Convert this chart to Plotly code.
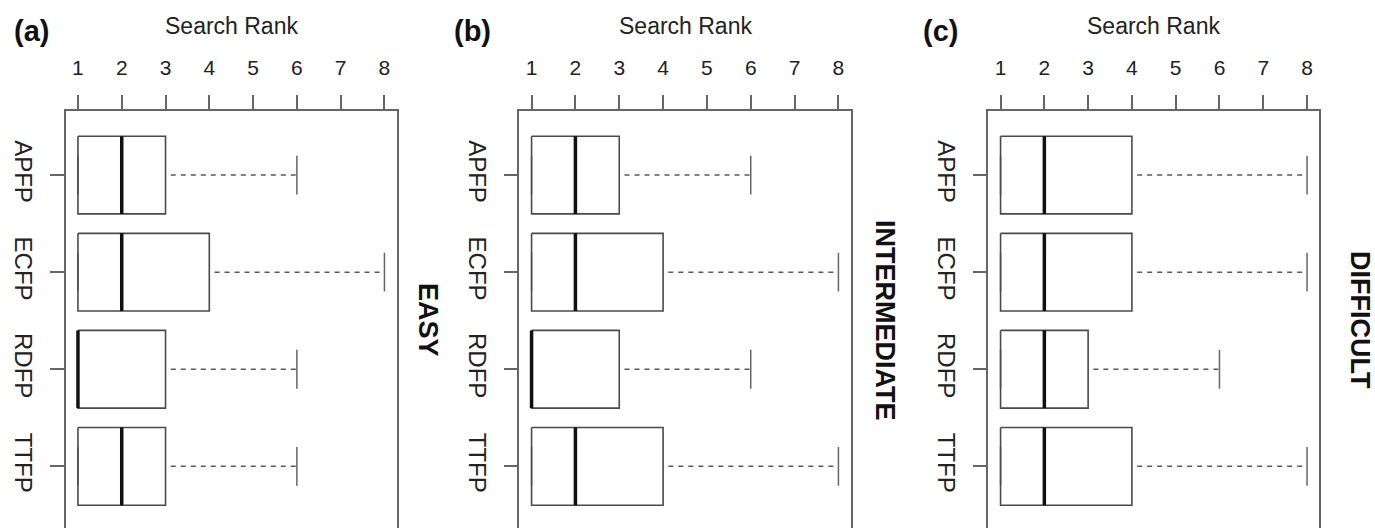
import plotly.graph_objects as go

# Fingerprint methods (one box per method in every panel)
methods = ["APFP", "ECFP", "RDFP", "TTFP"]
rank_ticks = [1, 2, 3, 4, 5, 6, 7, 8]

panel_tags = ["(a)", "(b)", "(c)"]
panel_names = ["EASY", "INTERMEDIATE", "DIFFICULT"]

# Search-rank summaries per difficulty level
easy_min = [1, 1, 1, 1]
easy_q1 = [1, 1, 1, 1]
easy_median = [2, 2, 1, 2]
easy_q3 = [3, 4, 3, 3]
easy_max = [6, 8, 6, 6]

inter_min = [1, 1, 1, 1]
inter_q1 = [1, 1, 1, 1]
inter_median = [2, 2, 1, 2]
inter_q3 = [3, 4, 3, 4]
inter_max = [6, 8, 6, 8]

diff_min = [1, 1, 1, 1]
diff_q1 = [1, 1, 1, 1]
diff_median = [2, 2, 2, 2]
diff_q3 = [4, 4, 3, 4]
diff_max = [8, 8, 6, 8]

panels = [
    (easy_min, easy_q1, easy_median, easy_q3, easy_max),
    (inter_min, inter_q1, inter_median, inter_q3, inter_max),
    (diff_min, diff_q1, diff_median, diff_q3, diff_max),
]

W, H = 1375, 528
TOP_PX = 111
x_domains = [(65.7 / W, 396.7 / W), (519.3 / W, 850.7 / W), (988.3 / W, 1319.3 / W)]
y_top = 1 - TOP_PX / H

BOX_HALF = 0.4      # half box width (category units)
STAPLE_HALF = 0.2   # half staple length
WHISKER_GAP = 0.12  # small gap between box edge and dashed whisker
FRAME = "#666666"
BOX_LINE = "#4a4a4a"
FONT = "Liberation Sans, Arial"

fig = go.Figure()
annotations = []

for i, (mn, q1, med, q3, mx) in enumerate(panels):
    xa = "x" if i == 0 else f"x{i + 1}"
    ya = "y" if i == 0 else f"y{i + 1}"
    pos = list(range(1, len(methods) + 1))

    box_x, box_y = [], []
    med_x, med_y = [], []
    wh_x, wh_y = [], []
    st_x, st_y = [], []
    for p, a, m, b, lo, hi in zip(pos, q1, med, q3, mn, mx):
        box_x += [a, b, b, a, a, None]
        box_y += [p - BOX_HALF, p - BOX_HALF, p + BOX_HALF, p + BOX_HALF, p - BOX_HALF, None]
        med_x += [m, m, None]
        med_y += [p - BOX_HALF, p + BOX_HALF, None]
        if hi > b:
            wh_x += [b + WHISKER_GAP, hi, None]
            wh_y += [p, p, None]
        if lo < a:
            wh_x += [lo, a - WHISKER_GAP, None]
            wh_y += [p, p, None]
        st_x += [hi, hi, None, lo, lo, None]
        st_y += [p - STAPLE_HALF, p + STAPLE_HALF, None, p - STAPLE_HALF, p + STAPLE_HALF, None]

    common = dict(mode="lines", xaxis=xa, yaxis=ya, hoverinfo="skip", showlegend=False)
    fig.add_trace(go.Scatter(x=wh_x, y=wh_y, line=dict(color="#5a5a5a", width=1.5, dash="5px,5px"), **common))
    fig.add_trace(go.Scatter(x=st_x, y=st_y, line=dict(color="#666666", width=1.5), **common))
    fig.add_trace(go.Scatter(x=box_x, y=box_y, line=dict(color=BOX_LINE, width=1.6), **common))
    fig.add_trace(go.Scatter(x=med_x, y=med_y, line=dict(color="#111111", width=3.5), **common))

    xkey = "xaxis" if i == 0 else f"xaxis{i + 1}"
    ykey = "yaxis" if i == 0 else f"yaxis{i + 1}"
    fig.update_layout(**{
        xkey: dict(
            domain=list(x_domains[i]), anchor=ya, side="top",
            range=[0.72, 8.28], tickvals=rank_ticks, ticktext=[str(t) for t in rank_ticks],
            showgrid=False, zeroline=False, showline=True, mirror=False,
            linecolor=FRAME, linewidth=1.5,
            ticks="outside", ticklen=14, tickwidth=1.5, tickcolor=FRAME,
            tickfont=dict(family=FONT, size=21, color="#222222"),
            ticklabelstandoff=12,
        ),
        ykey: dict(
            domain=[0, y_top], anchor=xa,
            range=[4.635, 0.34], tickvals=pos, ticktext=methods, tickangle=90,
            showgrid=False, zeroline=False, showline=True, mirror=True,
            linecolor=FRAME, linewidth=1.5,
            ticks="outside", ticklen=14, tickwidth=1.5, tickcolor=FRAME,
            tickfont=dict(family=FONT, size=24, color="#222222"),
            ticklabelstandoff=6,
        ),
    })

    # axis title above the top ticks
    annotations.append(dict(
        text="Search Rank", xref=f"{xa} domain", yref="paper", x=0.5, y=1 - 26 / H,
        showarrow=False, xanchor="center", yanchor="middle",
        font=dict(family=FONT, size=23, color="#222222"),
    ))

tag_x = [31, 472, 940]
for tag, tx in zip(panel_tags, tag_x):
    annotations.append(dict(
        text=f"<b>{tag}</b>", xref="paper", yref="paper", x=tx / W, y=1 - 31 / H,
        showarrow=False, xanchor="center", yanchor="middle",
        font=dict(family=FONT, size=29, color="#111111"),
    ))

label_x = [428, 885, 1360]
for name, lx in zip(panel_names, label_x):
    annotations.append(dict(
        text=f"<b>{name}</b>", xref="paper", yref="paper", x=lx / W, y=(1 - 320 / H),
        showarrow=False, xanchor="center", yanchor="middle", textangle=90,
        font=dict(family=FONT, size=27, color="#111111"),
    ))

fig.update_layout(
    width=W, height=H,
    margin=dict(l=0, r=0, t=0, b=0),
    paper_bgcolor="white", plot_bgcolor="white",
    showlegend=False,
    annotations=annotations,
)

fig.write_html("out.html")
